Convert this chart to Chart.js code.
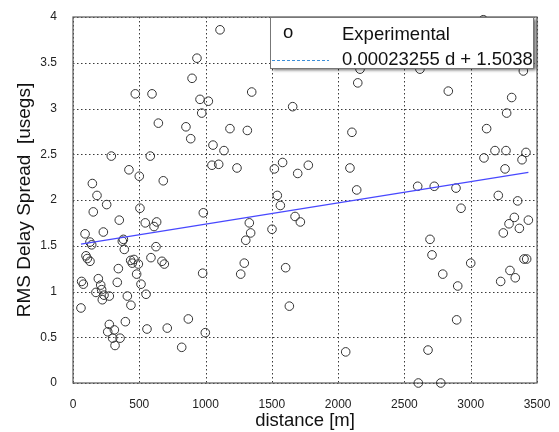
<!DOCTYPE html>
<html>
<head>
<meta charset="utf-8">
<script src="https://cdn.jsdelivr.net/npm/chart.js@4"></script>
<style>
  html, body { margin: 0; padding: 0; background: #fff; }
  canvas { display: block; }
</style>
</head>
<body>
<canvas id="rmsChart" width="559" height="432"></canvas>
<script>

// measured points: distance [m] and RMS delay spread [us]
let distance = [
  1109, 935, 898, 470, 596, 958, 1021, 971, 644, 852, 1184, 888, 1056, 1139, 289, 583,
  1048, 1099, 422, 500, 681, 146, 181, 1348, 1657, 2148, 2165, 1315, 2104, 1237, 1519, 1581,
  1695, 1775, 2089, 2140, 1541, 2831, 3309, 3271, 3120, 3100, 3183, 3266, 3417, 3387, 3259, 2600,
  2725, 2889, 3208, 2617, 3397, 3095, 3354,
  153, 254, 505, 349, 545, 631, 611, 983, 229, 91, 128, 141, 380, 372, 387, 626,
  98, 108, 128, 435, 460, 447, 493, 588, 671, 689, 342, 480, 978, 65, 78, 191,
  209, 334, 173, 216, 234, 274, 221, 513, 551, 410, 437, 60, 274, 262, 312, 299,
  355, 317, 395, 558, 711, 870, 820, 998, 1564, 1675, 1715, 1330, 1340, 1303, 1501, 1292,
  1265, 1604, 1632, 2057, 2927, 3329, 3435, 3289, 3367, 3246, 2693, 2708, 3000, 3402, 3422, 2789,
  3296, 3336, 3226, 2902, 2894, 2678, 2605, 2774
]
let delaySpread = [
  3.86, 3.55, 3.33, 3.16, 3.16, 3.10, 3.08, 2.95, 2.84, 2.80, 2.78, 2.67, 2.60, 2.54, 2.48, 2.48,
  2.38, 2.39, 2.33, 2.26, 2.21, 2.18, 2.05, 3.18, 3.02, 3.28, 3.43, 2.76, 2.74, 2.35, 2.34, 2.41,
  2.29, 2.38, 2.35, 2.11, 2.05, 3.19, 3.12, 2.95, 2.78, 2.46, 2.54, 2.54, 2.52, 2.44, 2.34, 2.15,
  2.15, 2.13, 2.05, 3.43, 3.41, 3.97, 1.99,
  1.87, 1.95, 1.91, 1.78, 1.75, 1.76, 1.71, 1.86, 1.65, 1.63, 1.54, 1.51, 1.57, 1.55, 1.46, 1.49,
  1.39, 1.36, 1.33, 1.34, 1.35, 1.31, 1.30, 1.37, 1.33, 1.30, 1.25, 1.19, 1.20, 1.11, 1.08, 1.14,
  1.07, 1.10, 0.99, 1.02, 0.96, 0.95, 0.91, 1.08, 0.97, 0.95, 0.85, 0.82, 0.64, 0.56, 0.58, 0.49,
  0.49, 0.41, 0.67, 0.59, 0.60, 0.70, 0.39, 0.55, 1.94, 1.82, 1.76, 1.75, 1.64, 1.56, 1.68, 1.31,
  1.19, 1.26, 0.84, 0.34, 1.91, 1.81, 1.78, 1.74, 1.69, 1.64, 1.57, 1.40, 1.31, 1.355, 1.355, 1.19,
  1.23, 1.15, 1.11, 1.06, 0.69, 0.36, 0.0, 0.0
]

// least squares fit: spread = slope * d + intercept
let fitSlope = 0.00023255
let fitIntercept = 1.5038

let distanceTicks = [0, 500, 1000, 1500, 2000, 2500, 3000, 3500]
let spreadTicks = [0, 0.5, 1, 1.5, 2, 2.5, 3, 3.5, 4]

const FONT = "'Liberation Sans', Arial, Helvetica, sans-serif"

let points = distance.map((d, i) => ({ x: d, y: delaySpread[i] }))
let fitEnds = [Math.min(...distance), Math.max(...distance)]
let fitLine = fitEnds.map(d => ({ x: d, y: fitSlope * d + fitIntercept }))

// dotted grid at every tick, then the box round the plot, all under the markers
const frame = {
  id: 'frame',
  beforeDatasetsDraw(chart) {
    const { ctx, chartArea: a, scales } = chart
    ctx.save()
    ctx.strokeStyle = '#3a3a3a'
    ctx.lineWidth = 1
    ctx.setLineDash([1.5, 2.5])
    ctx.beginPath()
    distanceTicks.forEach(v => {
      const px = Math.round(scales.x.getPixelForValue(v)) + 0.5
      ctx.moveTo(px, a.top)
      ctx.lineTo(px, a.bottom)
    })
    spreadTicks.forEach(v => {
      const py = Math.round(scales.y.getPixelForValue(v)) + 0.5
      ctx.moveTo(a.left, py)
      ctx.lineTo(a.right, py)
    })
    ctx.stroke()
    ctx.setLineDash([])
    ctx.strokeStyle = '#5a5a5a'
    ctx.lineWidth = 1.2
    ctx.strokeRect(a.left, a.top, a.right - a.left, a.bottom - a.top)
    ctx.restore()
  }
}

// matlab style legend box in the top right corner
const boxLegend = {
  id: 'boxLegend',
  afterDatasetsDraw(chart) {
    const { ctx, chartArea: a } = chart
    const sets = chart.data.datasets
    const left = 270, top = a.top, right = a.right - 4, bottom = a.top + 51
    ctx.save()
    ctx.shadowColor = 'rgba(0,0,0,0.6)'
    ctx.shadowBlur = 3
    ctx.shadowOffsetX = 3
    ctx.shadowOffsetY = 2
    ctx.fillStyle = '#fff'
    ctx.fillRect(left, top, right - left, bottom - top)
    ctx.restore()

    ctx.save()
    ctx.strokeStyle = '#777'
    ctx.lineWidth = 1
    ctx.strokeRect(left + 0.5, top + 0.5, right - left, bottom - top)

    ctx.font = '18.5px ' + FONT
    ctx.fillStyle = '#111'
    ctx.textBaseline = 'middle'
    ctx.textAlign = 'left'
    ctx.fillText('o', 283, top + 16)
    ctx.fillText(sets[0].label, 342, top + 18)

    ctx.strokeStyle = '#3b8ed8'
    ctx.lineWidth = 1
    ctx.setLineDash([3, 2])
    ctx.beginPath()
    ctx.moveTo(left + 2, top + 43.5)
    ctx.lineTo(329, top + 43.5)
    ctx.stroke()
    ctx.setLineDash([])
    ctx.fillText(sets[1].label, 342, top + 43)
    ctx.restore()
  }
}

const ctx = document.getElementById('rmsChart').getContext('2d')
const rmsChart = new Chart(ctx, {
  type: 'scatter',
  data: {
    datasets: [
      {
        label: 'Experimental',
        data: points,
        pointStyle: 'circle',
        pointRadius: 4.3,
        borderColor: '#333',
        backgroundColor: 'rgba(0,0,0,0)',
        borderWidth: 1,
        clip: false,
        order: 2
      },
      {
        type: 'line',
        label: fitSlope.toFixed(8) + ' d + ' + fitIntercept,
        data: fitLine,
        borderColor: '#4848ff',
        borderWidth: 1.2,
        pointRadius: 0,
        fill: false,
        order: 1
      }
    ]
  },
  options: {
    responsive: false,
    animation: false,
    events: [],
    layout: { padding: { left: 9, right: 22, top: 17, bottom: 0 } },
    plugins: {
      legend: { display: false },
      tooltip: { enabled: false }
    },
    scales: {
      x: {
        type: 'linear',
        min: 0,
        max: 3500,
        afterBuildTicks: axis => { axis.ticks = distanceTicks.map(v => ({ value: v })) },
        afterFit: axis => { axis.height = 49 },
        grid: { display: false },
        border: { display: false },
        ticks: {
          font: { family: FONT, size: 12 },
          color: '#222',
          padding: 6,
          maxRotation: 0,
          callback: v => String(v)
        },
        title: {
          display: true,
          text: 'distance [m]',
          font: { family: FONT, size: 18.5 },
          color: '#111',
          padding: { top: 0, bottom: 0 }
        }
      },
      y: {
        type: 'linear',
        min: 0,
        max: 4,
        afterBuildTicks: axis => { axis.ticks = spreadTicks.map(v => ({ value: v })) },
        afterFit: axis => { axis.width = 64 },
        grid: { display: false },
        border: { display: false },
        ticks: {
          font: { family: FONT, size: 12 },
          color: '#222',
          padding: 8,
          callback: v => String(v)
        },
        title: {
          display: true,
          text: 'RMS Delay Spread  [usegs]',
          font: { family: FONT, size: 19 },
          color: '#111',
          padding: { top: 4, bottom: 0 }
        }
      }
    }
  },
  plugins: [frame, boxLegend]
})
</script>
</body>
</html>
